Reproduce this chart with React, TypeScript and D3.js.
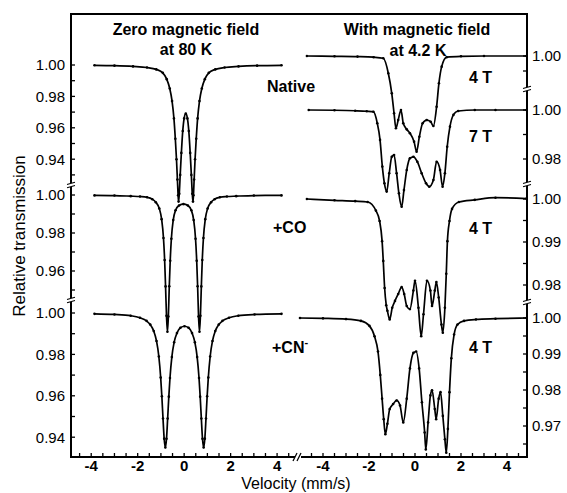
import React from "react";
import * as d3 from "d3";

// [velocity mm/s, relative transmission]
const zeroNative: [number, number][] = [
  [-3.86, 0.9998], [-3.0, 0.9996], [-2.2, 0.9991], [-1.6, 0.9984], [-1.2, 0.9972], [-0.92, 0.995],
  [-0.75, 0.991], [-0.62, 0.985], [-0.52, 0.977], [-0.44, 0.966], [-0.38, 0.953], [-0.33, 0.94],
  [-0.29, 0.927], [-0.26, 0.917], [-0.24, 0.913], [-0.21, 0.918], [-0.17, 0.93], [-0.12, 0.944],
  [-0.06, 0.958], [0.0, 0.966], [0.07, 0.969], [0.14, 0.966], [0.2, 0.958], [0.26, 0.944],
  [0.31, 0.93], [0.35, 0.918], [0.38, 0.913], [0.4, 0.917], [0.43, 0.927], [0.47, 0.94],
  [0.52, 0.953], [0.58, 0.966], [0.66, 0.977], [0.76, 0.985], [0.89, 0.991], [1.06, 0.995],
  [1.34, 0.9972], [1.74, 0.9984], [2.34, 0.9991], [3.14, 0.9996], [4.19, 0.9998],
];

const zeroCO: [number, number][] = [
  [-3.86, 0.9998], [-3.0, 0.9997], [-2.3, 0.9994], [-1.9, 0.9992], [-1.6, 0.9988], [-1.37, 0.9978],
  [-1.22, 0.9962], [-1.07, 0.9929], [-0.97, 0.9873], [-0.89, 0.9774], [-0.84, 0.9658], [-0.8, 0.9519],
  [-0.76, 0.9364], [-0.72, 0.928], [-0.68, 0.936], [-0.64, 0.952], [-0.6, 0.9654], [-0.55, 0.977],
  [-0.47, 0.9868], [-0.37, 0.992], [-0.22, 0.9945], [-0.03, 0.9952], [0.16, 0.9945], [0.31, 0.992],
  [0.41, 0.9868], [0.49, 0.977], [0.54, 0.9654], [0.58, 0.952], [0.62, 0.936], [0.66, 0.928],
  [0.7, 0.9364], [0.74, 0.9519], [0.78, 0.9658], [0.83, 0.9774], [0.91, 0.9873], [1.01, 0.9929],
  [1.16, 0.9962], [1.31, 0.9978], [1.54, 0.9988], [1.84, 0.9992], [2.24, 0.9994], [3.0, 0.9997],
  [4.19, 0.9998],
];

const zeroCN: [number, number][] = [
  [-3.86, 0.9996], [-3.0, 0.9993], [-2.3, 0.9987], [-1.9, 0.9977], [-1.62, 0.9962], [-1.46, 0.9944],
  [-1.31, 0.9913], [-1.19, 0.9865], [-1.09, 0.979], [-1.01, 0.9688], [-0.96, 0.9598], [-0.91, 0.949],
  [-0.86, 0.9393], [-0.81, 0.935], [-0.76, 0.9392], [-0.71, 0.949], [-0.66, 0.9596], [-0.61, 0.9686],
  [-0.53, 0.9787], [-0.43, 0.9859], [-0.31, 0.9903], [-0.16, 0.9929], [0.015, 0.9936], [0.19, 0.9929],
  [0.34, 0.9903], [0.46, 0.9859], [0.56, 0.9787], [0.64, 0.9686], [0.69, 0.9596], [0.74, 0.949],
  [0.79, 0.9392], [0.84, 0.935], [0.89, 0.9393], [0.94, 0.949], [0.99, 0.9598], [1.04, 0.9688],
  [1.12, 0.979], [1.22, 0.9865], [1.34, 0.9913], [1.49, 0.9944], [1.65, 0.9962], [1.93, 0.9977],
  [2.33, 0.9987], [3.03, 0.9993], [4.19, 0.9996],
];

const fieldNative4T: [number, number][] = [
  [-4.7, 1.0], [-3.5, 0.9998], [-2.5, 0.9996], [-1.8, 0.9992], [-1.38, 0.9985], [-1.16, 0.9885],
  [-1.01, 0.9751], [-0.91, 0.9618], [-0.83, 0.9518], [-0.73, 0.9573], [-0.61, 0.964], [-0.51, 0.9551],
  [-0.36, 0.9511], [-0.22, 0.9485], [-0.04, 0.9429], [0.07, 0.9362], [0.19, 0.9462], [0.33, 0.9551],
  [0.51, 0.9573], [0.68, 0.9562], [0.8, 0.9533], [0.94, 0.9662], [1.04, 0.9818], [1.16, 0.9929],
  [1.38, 0.9992], [2.0, 0.9998], [3.0, 1.0], [4.85, 1.0],
];

const fieldNative7T: [number, number][] = [
  [-4.62, 1.0], [-3.5, 0.9999], [-2.6, 0.9997], [-2.1, 0.9995], [-1.81, 0.9993], [-1.64, 0.9946],
  [-1.52, 0.9878], [-1.42, 0.9769], [-1.33, 0.9701], [-1.23, 0.9667], [-1.12, 0.9742], [-1.01, 0.9809],
  [-0.91, 0.9816], [-0.8, 0.9742], [-0.7, 0.966], [-0.58, 0.9605], [-0.48, 0.9673], [-0.36, 0.9755],
  [-0.22, 0.9803], [-0.07, 0.9809], [0.1, 0.9789], [0.29, 0.9742], [0.48, 0.9701], [0.62, 0.9687],
  [0.8, 0.9714], [0.94, 0.9789], [1.09, 0.9755], [1.2, 0.9687], [1.3, 0.9742], [1.4, 0.985],
  [1.52, 0.9932], [1.67, 0.998], [1.88, 0.9996], [2.6, 1.0], [3.5, 1.0], [4.85, 1.0],
];

const fieldCO4T: [number, number][] = [
  [-4.7, 1.0], [-3.5, 0.9997], [-2.6, 0.9995], [-2.06, 0.9993], [-1.7, 0.9973], [-1.54, 0.9949],
  [-1.43, 0.9902], [-1.38, 0.9856], [-1.32, 0.9793], [-1.25, 0.9753], [-1.2, 0.974], [-1.1, 0.972],
  [-0.99, 0.9747], [-0.87, 0.9763], [-0.73, 0.9779], [-0.58, 0.9795], [-0.47, 0.9779], [-0.36, 0.9751],
  [-0.22, 0.9744], [-0.07, 0.9787], [0.0, 0.981], [0.15, 0.9747], [0.27, 0.9681], [0.37, 0.9732],
  [0.52, 0.981], [0.67, 0.9787], [0.74, 0.9751], [0.86, 0.9787], [0.93, 0.9807], [1.03, 0.9771],
  [1.15, 0.9708], [1.21, 0.9689], [1.3, 0.9747], [1.36, 0.9826], [1.41, 0.9902], [1.5, 0.9949],
  [1.61, 0.9977], [1.91, 0.9993], [2.6, 0.9998], [3.5, 1.0003], [4.85, 1.0001],
];

const fieldCN4T: [number, number][] = [
  [-5.0, 1.0], [-4.0, 0.9999], [-3.0, 0.9997], [-2.35, 0.9992], [-1.98, 0.9978], [-1.76, 0.9949],
  [-1.61, 0.9907], [-1.51, 0.9842], [-1.43, 0.9776], [-1.36, 0.9719], [-1.29, 0.9677], [-1.2, 0.9706],
  [-1.1, 0.9747], [-0.95, 0.9761], [-0.8, 0.9771], [-0.65, 0.9757], [-0.51, 0.971], [-0.36, 0.9776],
  [-0.22, 0.986], [-0.07, 0.9903], [0.05, 0.9907], [0.18, 0.986], [0.3, 0.9766], [0.42, 0.9682],
  [0.47, 0.9635], [0.57, 0.971], [0.67, 0.9785], [0.74, 0.9799], [0.86, 0.9747], [0.92, 0.9719],
  [1.03, 0.9776], [1.11, 0.9794], [1.21, 0.9728], [1.3, 0.9663], [1.36, 0.9626], [1.43, 0.9692],
  [1.5, 0.9794], [1.58, 0.9888], [1.7, 0.9954], [1.85, 0.9982], [2.13, 0.9992], [2.65, 0.9996],
  [3.5, 0.9998], [4.85, 1.0],
];

// axis ticks
const velocityLabels = [-4, -2, 0, 2, 4];
const zeroNativeLabels = [1.0, 0.98, 0.96, 0.94];
const zeroNativeMinor = [0.99, 0.97, 0.95, 0.93];
const zeroCOLabels = [1.0, 0.98, 0.96];
const zeroCOMinor = [0.99, 0.97, 0.95];
const zeroCNLabels = [1.0, 0.98, 0.96, 0.94];
const zeroCNMinor = [0.99, 0.97, 0.95];
const n4Labels = [1.0];
const n4Minor = [0.99];
const n7Labels = [1.0, 0.98];
const n7Minor = [0.99];
const co4Labels = [1.0, 0.99, 0.98];
const co4Minor = [0.995, 0.985];
const cn4Labels = [1.0, 0.99, 0.98, 0.97];
const cn4Minor = [0.995, 0.985, 0.975, 0.965];

const W = 567;
const H = 493;
const L = 71;
const R = 527;
const T = 14;
const B = 457;
const FONT = "'Liberation Sans', Arial, Helvetica, sans-serif";

const yScale = (y1: number, perUnit: number) =>
  d3.scaleLinear().domain([1, 0]).range([y1, y1 + perUnit]);

function YBreak({ x, y }: { x: number; y: number }) {
  return (
    <g>
      <rect x={x - 5} y={y - 2} width={10} height={4} fill="#fff" />
      <line x1={x - 4} y1={y - 0.5} x2={x + 4} y2={y - 2.8} stroke="#000" strokeWidth={1.1} />
      <line x1={x - 4} y1={y + 2.8} x2={x + 4} y2={y + 0.5} stroke="#000" strokeWidth={1.1} />
    </g>
  );
}

export default function App() {
  const xLeft = d3.scaleLinear().domain([-4.87, 4.9]).range([L, 298]);
  const xRight = d3.scaleLinear().domain([-5, 4.87]).range([300, R]);

  const yZN = yScale(65, 1570);
  const yZCO = yScale(195, 1900);
  const yZCN = yScale(313, 2070);
  const yN4 = yScale(56, 1500);
  const yN7 = yScale(110, 2450);
  const yCO4 = yScale(199, 4300);
  const yCN4 = yScale(318, 3600);

  const series = [
    { data: zeroNative, x: xLeft, y: yZN },
    { data: zeroCO, x: xLeft, y: yZCO },
    { data: zeroCN, x: xLeft, y: yZCN },
    { data: fieldNative4T, x: xRight, y: yN4 },
    { data: fieldNative7T, x: xRight, y: yN7 },
    { data: fieldCO4T, x: xRight, y: yCO4 },
    { data: fieldCN4T, x: xRight, y: yCN4 },
  ];

  const leftTicks = [
    { y: yZN, labels: zeroNativeLabels, minor: zeroNativeMinor },
    { y: yZCO, labels: zeroCOLabels, minor: zeroCOMinor },
    { y: yZCN, labels: zeroCNLabels, minor: zeroCNMinor },
  ];
  const rightTicks = [
    { y: yN4, labels: n4Labels, minor: n4Minor },
    { y: yN7, labels: n7Labels, minor: n7Minor },
    { y: yCO4, labels: co4Labels, minor: co4Minor },
    { y: yCN4, labels: cn4Labels, minor: cn4Minor },
  ];

  const minorV = d3.range(-4.5, 4.51, 0.5);

  const textBold = { fontFamily: FONT, fontWeight: 700, fontSize: 16 } as const;

  return (
    <svg
      width={W}
      height={H}
      style={{ position: "absolute", left: 0, top: 0, background: "#fff" }}
    >
      {/* spectra */}
      {series.map((s, i) => {
        const line = d3
          .line<[number, number]>()
          .x((d) => s.x(d[0]))
          .y((d) => s.y(d[1]))
          .curve(d3.curveMonotoneX);
        return (
          <g key={i}>
            <path d={line(s.data) || ""} fill="none" stroke="#000" strokeWidth={1.7} />
            {s.data.map((d, j) => (
              <circle key={j} cx={s.x(d[0])} cy={s.y(d[1])} r={1.3} fill="#000" />
            ))}
          </g>
        );
      })}

      {/* frame */}
      <g stroke="#000" strokeWidth={2} fill="none">
        <line x1={L} y1={T} x2={R} y2={T} />
        <line x1={L} y1={T - 1} x2={L} y2={B + 1} />
        <line x1={R} y1={T - 1} x2={R} y2={B + 1} />
        <line x1={L - 1} y1={B} x2={296} y2={B} />
        <line x1={300} y1={B} x2={R + 1} y2={B} />
      </g>

      {/* left y ticks */}
      {leftTicks.map((seg, i) => (
        <g key={"l" + i}>
          {[...seg.labels, ...seg.minor].map((v) => (
            <line key={v} x1={L} x2={L + 4} y1={seg.y(v)} y2={seg.y(v)} stroke="#000" strokeWidth={1.3} />
          ))}
          {seg.labels.map((v) => (
            <text
              key={"t" + v}
              x={L - 6}
              y={seg.y(v)}
              dy="0.36em"
              textAnchor="end"
              fontFamily={FONT}
              fontSize={15}
            >
              {d3.format(".2f")(v)}
            </text>
          ))}
        </g>
      ))}

      {/* right y ticks */}
      {rightTicks.map((seg, i) => (
        <g key={"r" + i}>
          {[...seg.labels, ...seg.minor].map((v) => (
            <line key={v} x1={R - 4} x2={R} y1={seg.y(v)} y2={seg.y(v)} stroke="#000" strokeWidth={1.3} />
          ))}
          {seg.labels.map((v) => (
            <text
              key={"t" + v}
              x={R + 5}
              y={seg.y(v)}
              dy="0.36em"
              textAnchor="start"
              fontFamily={FONT}
              fontSize={15}
            >
              {d3.format(".2f")(v)}
            </text>
          ))}
        </g>
      ))}

      {/* x ticks */}
      {[xLeft, xRight].map((xs, i) => (
        <g key={"x" + i}>
          {minorV.map((v) => (
            <line key={v} x1={xs(v)} x2={xs(v)} y1={B} y2={B - 4} stroke="#000" strokeWidth={1.3} />
          ))}
          {velocityLabels.map((v) => (
            <text
              key={"t" + v}
              x={xs(v)}
              y={471}
              textAnchor="middle"
              fontFamily={FONT}
              fontSize={15}
              fontWeight={700}
            >
              {v}
            </text>
          ))}
        </g>
      ))}

      {/* axis breaks */}
      <YBreak x={L} y={185} />
      <YBreak x={L} y={300} />
      <YBreak x={R} y={89} />
      <YBreak x={R} y={184} />
      <YBreak x={R} y={302} />
      <rect x={295} y={453} width={6} height={8} fill="#fff" />
      <line x1={293} y1={461} x2={297} y2={453} stroke="#000" strokeWidth={1.2} />
      <line x1={297} y1={461} x2={301} y2={453} stroke="#000" strokeWidth={1.2} />

      {/* titles and labels */}
      <text x={186} y={34.5} textAnchor="middle" {...textBold}>Zero magnetic field</text>
      <text x={186} y={55} textAnchor="middle" {...textBold}>at 80 K</text>
      <text x={417} y={34.5} textAnchor="middle" {...textBold}>With magnetic field</text>
      <text x={418} y={55.5} textAnchor="middle" {...textBold}>at 4.2 K</text>

      <text x={267} y={92} {...textBold}>Native</text>
      <text x={273} y={233} {...textBold}>+CO</text>
      <text x={272} y={353} {...textBold}>
        +CN<tspan dy={-7} fontSize={11}>-</tspan>
      </text>

      <text x={469} y={83} {...textBold}>4 T</text>
      <text x={469} y={142} {...textBold}>7 T</text>
      <text x={469} y={234} {...textBold}>4 T</text>
      <text x={469} y={352.5} {...textBold}>4 T</text>

      <text
        transform="translate(25,236) rotate(-90)"
        textAnchor="middle"
        fontFamily={FONT}
        fontSize={17}
      >
        Relative transmission
      </text>
      <text x={296} y={489} textAnchor="middle" fontFamily={FONT} fontSize={16}>
        Velocity (mm/s)
      </text>
    </svg>
  );
}
